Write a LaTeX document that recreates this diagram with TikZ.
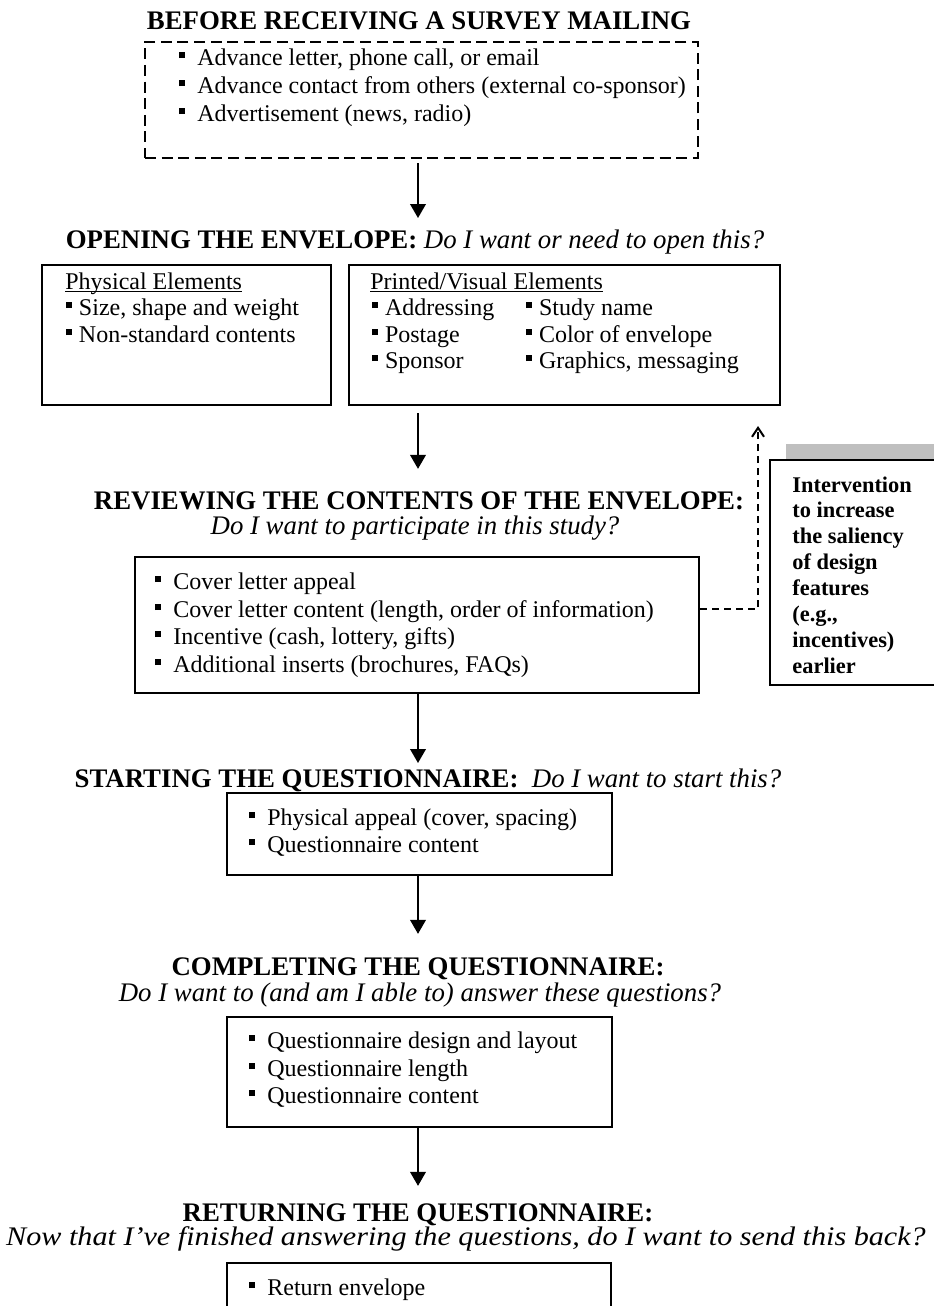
\documentclass[tikz,border=0pt]{standalone}
\usepackage{fontspec}
\setmainfont{Liberation Serif}
\usetikzlibrary{arrows.meta,fit}
\definecolor{shadowgray}{RGB}{191,191,191}
\newcommand\bul{\raisebox{3.5pt}{\rule{3pt}{3pt}}}
\newcommand\bitem[1]{\bul\hspace{6pt}#1}
\newcommand\bitemn[1]{\bul\hspace{3.3pt}#1}
\newcommand\ulin[1]{\setbox0\hbox{#1}\rlap{\rule[-1.6pt]{\wd0}{0.6pt}}\box0}
\begin{document}
\begin{tikzpicture}[x=0.5pt,y=-0.5pt,
  txt/.style={anchor=base west,inner sep=0pt,font=\fontsize{12}{13.8}\selectfont},
  head/.style={anchor=base,inner sep=0pt,font=\fontsize{13.4}{15}\selectfont\bfseries},
  sub/.style={anchor=base,inner sep=0pt,font=\fontsize{13.4}{15}\selectfont\itshape},
  box/.style={draw,line width=1pt,inner sep=0pt},
  dbox/.style={draw,line width=1pt,inner sep=0pt,dash pattern=on 5.5pt off 2.8pt},
  flow/.style={line width=1pt,-{Triangle[width=7.8pt,length=7pt]}},
  back/.style={line width=1pt,dash pattern=on 3.5pt off 2.5pt,-{Straight Barb[width=6pt,length=4.5pt,line width=1pt]}},
  itv/.style={anchor=base west,inner sep=0pt,font=\fontsize{11.2}{12.9}\selectfont\bfseries}]
\useasboundingbox (0,0) rectangle (933,1306);
\coordinate (ax) at (418,0);

% stage 1
\node[head] (h1) at (419,29) {BEFORE RECEIVING A SURVEY MAILING};
\node[dbox, fit={(145,42) (698,158)}] (pre) {};
\node[txt] (p1) at (179,65) {\bitem{Advance letter, phone call, or email}};
\node[txt] (p2) at (179,93) {\bitem{Advance contact from others (external co-sponsor)}};
\node[txt] (p3) at (179,121) {\bitem{Advertisement (news, radio)}};

% stage 2
\node[head] (h2) at (415,248) {OPENING THE ENVELOPE: {\mdseries\itshape Do I want or need to open this?}};
\node[box, fit={(42,265) (331,405)}] (phys) {};
\node[txt] (ph0) at (65,289) {\ulin{Physical Elements}};
\node[txt] (ph1) at (66,315) {\bitemn{Size, shape and weight}};
\node[txt] (ph2) at (66,342) {\bitemn{Non-standard contents}};
\node[box, fit={(349,265) (780,405)}] (print) {};
\node[txt] (pv0) at (370,289) {\ulin{Printed/Visual Elements}};
\node[txt] (pv1) at (372,315) {\bitemn{Addressing}};
\node[txt] (pv2) at (372,342) {\bitemn{Postage}};
\node[txt] (pv3) at (372,368) {\bitemn{Sponsor}};
\node[txt] (pv4) at (526,315) {\bitemn{Study name}};
\node[txt] (pv5) at (526,342) {\bitemn{Color of envelope}};
\node[txt] (pv6) at (526,368) {\bitemn{Graphics, messaging}};

% stage 3
\node[head] (h3) at (419,509) {REVIEWING THE CONTENTS OF THE ENVELOPE:};
\node[sub] (s3) at (415,534) {Do I want to participate in this study?};
\node[box, fit={(135,557) (699,693)}] (rev) {};
\node[txt] (r1) at (155,589) {\bitem{Cover letter appeal}};
\node[txt] (r2) at (155,617) {\bitem{Cover letter content (length, order of information)}};
\node[txt] (r3) at (155,644) {\bitem{Incentive (cash, lottery, gifts)}};
\node[txt] (r4) at (155,672) {\bitem{Additional inserts (brochures, FAQs)}};

% intervention
\node[fill=shadowgray, inner sep=0pt, fit={(786,444) (960,459)}] (shade) {};
\node[box, fill=white, fit={(770,460) (960,685)}] (intv) {};
\node[itv] (i1) at (792,492) {Intervention};
\node[itv] (i2) at (792,517.9) {to increase};
\node[itv] (i3) at (792,543.8) {the saliency};
\node[itv] (i4) at (792,569.7) {of design};
\node[itv] (i5) at (792,595.6) {features};
\node[itv] (i6) at (792,621.5) {(e.g.,};
\node[itv] (i7) at (792,647.4) {incentives)};
\node[itv] (i8) at (792,673.3) {earlier};

% stage 4
\node[head] (h4) at (428,787) {STARTING THE QUESTIONNAIRE:\ \ {\mdseries\itshape Do I want to start this?}};
\node[box, fit={(227,793) (612,875)}] (start) {};
\node[txt] (st1) at (249,825) {\bitem{Physical appeal (cover, spacing)}};
\node[txt] (st2) at (249,852) {\bitem{Questionnaire content}};

% stage 5
\node[head] (h5) at (418,975) {COMPLETING THE QUESTIONNAIRE:};
\node[sub] (s5) at (420,1001) {Do I want to (and am I able to) answer these questions?};
\node[box, fit={(227,1017) (612,1127)}] (comp) {};
\node[txt] (c1) at (249,1048) {\bitem{Questionnaire design and layout}};
\node[txt] (c2) at (249,1076) {\bitem{Questionnaire length}};
\node[txt] (c3) at (249,1103) {\bitem{Questionnaire content}};

% stage 6
\node[head] (h6) at (418,1221) {RETURNING THE QUESTIONNAIRE:};
\node[sub] (s6) at (466,1245) {\scalebox{1.125}[1]{Now that I’ve finished answering the questions, do I want to send this back?}};
\node[box, fit={(227,1263) (611,1340)}] (ret) {};
\node[txt] (rt1) at (249,1295) {\bitem{Return envelope}};

% connectors
\draw[flow, shorten <=2pt, shorten >=5.5pt] (pre.south -| ax) -- (h2.north -| ax);
\draw[flow, shorten <=3.5pt, shorten >=11pt] (print.south -| ax) -- (h3.north -| ax);
\draw[flow, shorten >=2.5pt] (rev.south -| ax) -- (h4.north -| ax);
\draw[flow, shorten >=11.5pt] (start.south -| ax) -- (h5.north -| ax);
\draw[flow, shorten >=8.5pt] (comp.south -| ax) -- (h6.north -| ax);
\coordinate (bend) at (758,609);
\draw[back, shorten >=10pt] (rev.east |- bend) -- (bend) -- (bend |- print.south);
\end{tikzpicture}
\end{document}
